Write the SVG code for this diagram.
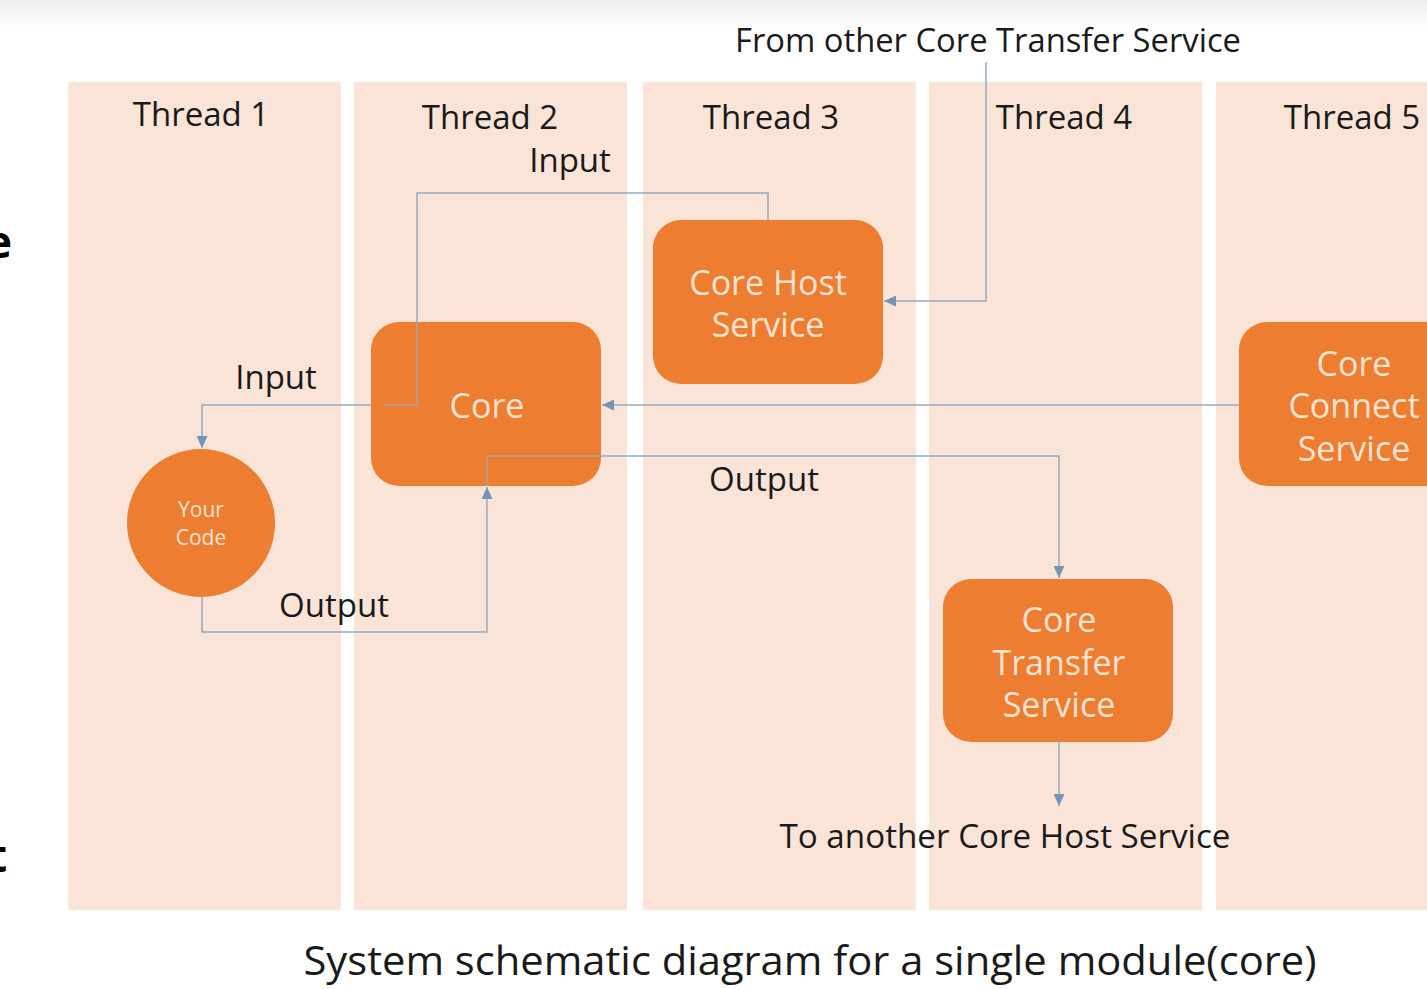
<svg xmlns="http://www.w3.org/2000/svg" width="1427" height="989" viewBox="0 0 1427 989">
<defs>
<linearGradient id="topfade" x1="0" y1="0" x2="0" y2="1">
<stop offset="0" stop-color="#EDEDED"/>
<stop offset="1" stop-color="#FFFFFF"/>
</linearGradient>
<marker id="arr" viewBox="0 0 12 11" refX="12" refY="5.5" markerWidth="12" markerHeight="11" markerUnits="userSpaceOnUse" orient="auto">
<path d="M0,0 L12,5.5 L0,11 z" fill="#7295BA"/>
</marker>
<style>
.lane{fill:#FAE4D7}
.node{fill:#ED7D31}
.ntext{font-family:"Open Sans","Noto Sans",sans-serif;fill:#FBE3D3;text-anchor:middle}
.label{font-family:"Open Sans","Noto Sans",sans-serif;fill:#1A1A1A;text-anchor:middle}
.conn{fill:none;stroke:#94ABC2;stroke-width:1.5}
</style>
</defs>
<rect x="0" y="0" width="1427" height="989" fill="#FFFFFF"/>
<rect x="0" y="0" width="1427" height="28" fill="url(#topfade)"/>
<text x="-14" y="258" font-family="Open Sans, sans-serif" font-size="44" font-weight="bold" fill="#000">e</text>
<text x="-12" y="872" font-family="Open Sans, sans-serif" font-size="44" font-weight="bold" fill="#000">t</text>
<g id="lanes">
<rect class="lane" x="68" y="82" width="273" height="828"/>
<rect class="lane" x="354" y="82" width="273" height="828"/>
<rect class="lane" x="643" y="82" width="273" height="828"/>
<rect class="lane" x="929" y="82" width="273" height="828"/>
<rect class="lane" x="1216" y="82" width="211" height="828"/>
</g>
<g id="lane-labels" font-size="33">
<text class="label" x="201" y="126">Thread 1</text>
<text class="label" x="490" y="129">Thread 2</text>
<text class="label" x="771" y="129">Thread 3</text>
<text class="label" x="1064" y="129">Thread 4</text>
<text class="label" x="1352" y="129">Thread 5</text>
</g>
<g id="connectors">
<path class="conn" d="M768,220 L768,193 L417,193 L417,405 L373,405" marker-end="url(#arr)"/>
<path class="conn" d="M372,405 L202,405 L202,448" marker-end="url(#arr)"/>
<path class="conn" d="M202,597 L202,632 L487,632 L487,487" marker-end="url(#arr)"/>
<path class="conn" d="M1239,405 L602,405" marker-end="url(#arr)"/>
<path class="conn" d="M986,62 L986,301 L884,301" marker-end="url(#arr)"/>
<path class="conn" d="M487,486 L487,456 L1059,456 L1059,578" marker-end="url(#arr)"/>
<path class="conn" d="M1059,742 L1059,806" marker-end="url(#arr)"/>
</g>
<g id="your-code">
<circle class="node" cx="201" cy="523" r="74"/>
<text class="ntext" x="201" y="517" font-size="21">Your</text>
<text class="ntext" x="201" y="545" font-size="21">Code</text>
</g>
<g id="core">
<rect class="node" x="371" y="322" width="230" height="164" rx="28"/>
<text class="ntext" x="487" y="418" font-size="34">Core</text>
<path class="conn" d="M487,486 L487,456 L601,456" opacity="0.8"/>
<path class="conn" d="M417,322 L417,405 L384,405" opacity="0.8"/>
</g>
<g id="core-host-service">
<rect class="node" x="653" y="220" width="230" height="164" rx="28"/>
<text class="ntext" x="768" y="295" font-size="34">Core Host</text>
<text class="ntext" x="768" y="337" font-size="34">Service</text>
</g>
<g id="core-transfer-service">
<rect class="node" x="943" y="579" width="230" height="163" rx="28"/>
<text class="ntext" x="1059" y="632" font-size="34">Core</text>
<text class="ntext" x="1059" y="675" font-size="34">Transfer</text>
<text class="ntext" x="1059" y="717" font-size="34">Service</text>
</g>
<g id="core-connect-service">
<rect class="node" x="1239" y="322" width="230" height="164" rx="28"/>
<text class="ntext" x="1354" y="376" font-size="34">Core</text>
<text class="ntext" x="1354" y="418" font-size="34">Connect</text>
<text class="ntext" x="1354" y="461" font-size="34">Service</text>
</g>
<g id="labels" font-size="33">
<text class="label" x="988" y="52" textLength="506" lengthAdjust="spacingAndGlyphs">From other Core Transfer Service</text>
<text class="label" x="570" y="172">Input</text>
<text class="label" x="276" y="389">Input</text>
<text class="label" x="334" y="617">Output</text>
<text class="label" x="764" y="491">Output</text>
<text class="label" x="1005" y="848" textLength="451" lengthAdjust="spacingAndGlyphs">To another Core Host Service</text>
<text class="label" x="810" y="975" font-size="40" textLength="1013" lengthAdjust="spacingAndGlyphs">System schematic diagram for a single module(core)</text>
</g>
</svg>
